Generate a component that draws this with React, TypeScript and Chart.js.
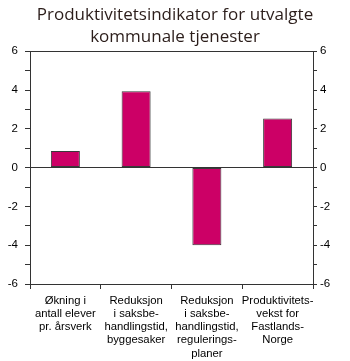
import React, { useEffect, useRef } from "react";
import { Chart, registerables } from "chart.js";

Chart.register(...registerables);

const titleLines = ["Produktivitetsindikator for utvalgte", "kommunale tjenester"];
const categories: string[][] = [
  ["Økning i", "antall elever", "pr. årsverk"],
  ["Reduksjon", "i saksbe-", "handlingstid,", "byggesaker"],
  ["Reduksjon", "i saksbe-", "handlingstid,", "regulerings-", "planer"],
  ["Produktivitets-", "vekst for", "Fastlands-", "Norge"],
];
const values = [0.85, 3.93, -4.0, 2.53];
const yMin = -6;
const yMax = 6;
const yStep = 1;

export default function App() {
  const ref = useRef<HTMLCanvasElement | null>(null);
  useEffect(() => {
    document.body.style.margin = "0";
    const canvas = ref.current;
    if (!canvas) return;
    const tickFont = { family: "'Liberation Sans', Arial, sans-serif", size: 11.5 };
    const evenLabel = (v: any) => (Number(v) % 2 === 0 ? String(v) : "");
    const chart = new Chart(canvas, {
      type: "bar",
      data: {
        labels: categories,
        datasets: [
          {
            data: values,
            backgroundColor: "#cc0066",
            borderColor: "#3a3a3a",
            borderWidth: 1,
            borderSkipped: false,
            barPercentage: 0.41,
            categoryPercentage: 1,
          },
        ],
      },
      options: {
        responsive: false,
        animation: false,
        devicePixelRatio: 1,
        layout: { padding: 0 },
        plugins: {
          legend: { display: false },
          tooltip: { enabled: false },
          title: {
            display: true,
            text: titleLines,
            color: "#2b1d1a",
            font: { family: "'Open Sans', sans-serif", size: 17, weight: "normal", lineHeight: 1.3 },
            padding: { top: 4, bottom: 3 },
          },
        },
        scales: {
          x: {
            position: "bottom",
            offset: true,
            grid: {
              display: true,
              offset: true,
              drawOnChartArea: false,
              drawTicks: true,
              tickLength: 5,
              color: "#333",
              tickColor: "#333",
            },
            border: { display: true, color: "#333", width: 1 },
            ticks: {
              color: "#000",
              font: { ...tickFont, size: 11.3, lineHeight: 1.17 },
              padding: 5,
              maxRotation: 0,
              autoSkip: false,
            },
            afterFit: (s: any) => {
              s.height = 77;
            },
          },
          y: {
            position: "left",
            min: yMin,
            max: yMax,
            grid: {
              color: (ctx: any) =>
                ctx.tick && (ctx.tick.value === 0 || ctx.tick.value === yMax) ? "#333" : "rgba(0,0,0,0)",
              tickColor: "#333",
              tickLength: 5,
              drawTicks: true,
            },
            border: { display: true, color: "#333", width: 1 },
            ticks: {
              stepSize: yStep,
              color: "#000",
              font: tickFont,
              padding: 7,
              callback: evenLabel,
            },
            afterFit: (s: any) => {
              s.width = 30;
            },
          },
          y2: {
            position: "right",
            min: yMin,
            max: yMax,
            grid: {
              drawOnChartArea: false,
              tickColor: "#333",
              tickLength: 4,
              drawTicks: true,
            },
            border: { display: true, color: "#333", width: 1 },
            ticks: {
              stepSize: yStep,
              color: "#000",
              font: tickFont,
              padding: 3,
              callback: evenLabel,
            },
            afterFit: (s: any) => {
              s.width = 37;
            },
          },
        },
      },
    });
    return () => chart.destroy();
  }, []);
  return (
    <div style={{ width: 350, height: 361 }}>
      <canvas ref={ref} width={350} height={361} style={{ display: "block" }} />
    </div>
  );
}
